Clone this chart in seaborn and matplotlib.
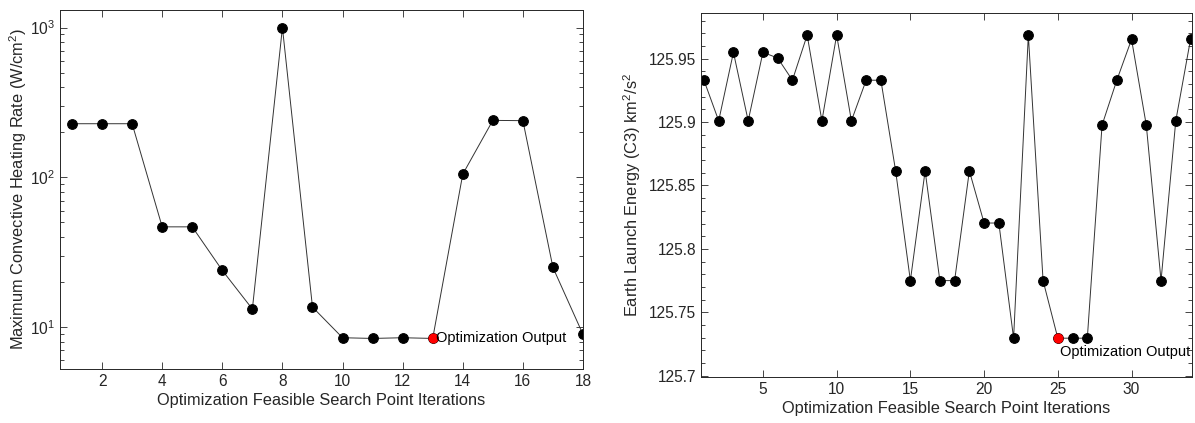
import matplotlib
matplotlib.use("Agg")
import matplotlib.pyplot as plt
import matplotlib.ticker as mticker
import seaborn as sns
import pandas as pd
import numpy as np

# ---- data ----
iters_left = list(range(1, 19))
heating_rate = [228, 228, 228, 46.7, 46.7, 23.9, 13.2, 1000, 13.6, 8.49, 8.4, 8.49,
                8.4, 105, 240, 239, 25.0, 8.93]
opt_left_iter = 13

iters_right = list(range(1, 35))
c3_energy = [125.933, 125.901, 125.955, 125.901, 125.955, 125.9505, 125.933, 125.9686,
             125.901, 125.9686, 125.901, 125.933, 125.933, 125.8615, 125.775, 125.8615,
             125.775, 125.775, 125.8615, 125.8204, 125.8204, 125.7296, 125.9686, 125.775,
             125.7296, 125.7296, 125.7296, 125.8976, 125.933, 125.9652, 125.8976, 125.775,
             125.901, 125.9652]
opt_right_iter = 25

xlabel = "Optimization Feasible Search Point Iterations"
ylabel_left = "Maximum Convective Heating Rate (W/cm$^2$)"
ylabel_right = "Earth Launch Energy (C3) km$^2$/s$^2$"
annot_text = "Optimization Output"
left_xticks = [2, 4, 6, 8, 10, 12, 14, 16, 18]
right_xticks = [5, 10, 15, 20, 25, 30]
right_yticks = [125.7, 125.75, 125.8, 125.85, 125.9, 125.95]

sns.set_style("ticks")
plt.rcParams['font.family'] = ['Liberation Sans', 'DejaVu Sans']
plt.rcParams['mathtext.fontset'] = 'custom'
plt.rcParams['mathtext.rm'] = 'Liberation Sans'
plt.rcParams['mathtext.it'] = 'Liberation Sans'

axcol = '#262626'
W, H = 1195, 423
fig = plt.figure(figsize=(W / 100, H / 100), dpi=100)
ax1 = fig.add_axes([60 / W, (H - 369) / H, (583 - 60) / W, (369 - 10) / H])
ax2 = fig.add_axes([701 / W, (H - 377) / H, (1192 - 701) / W, (377 - 13) / H])

dfl = pd.DataFrame({"it": iters_left, "val": heating_rate})
dfr = pd.DataFrame({"it": iters_right, "val": c3_energy})

for ax, df, opt in [(ax1, dfl, opt_left_iter), (ax2, dfr, opt_right_iter)]:
    sns.lineplot(data=df, x="it", y="val", ax=ax, color='#333333', linewidth=0.7,
                 marker='o', markersize=7, markerfacecolor='black',
                 markeredgecolor='black', zorder=2)
    sub = df[df["it"] == opt]
    sns.scatterplot(data=sub, x="it", y="val", ax=ax, color='red', s=52,
                    edgecolor='red', linewidth=0, zorder=3)
    ax.set_xlabel(xlabel, fontsize=11.8, color=axcol, labelpad=3)
    for s in ax.spines.values():
        s.set_visible(True)
        s.set_color(axcol)
        s.set_linewidth(0.7)
    ax.tick_params(which='both', direction='in', top=True, right=True,
                   colors=axcol, labelsize=11.2, width=0.6)
    ax.tick_params(which='major', length=5)
    ax.tick_params(which='minor', length=3)

ax1.set_yscale('log')
ax1.set_xlim(0.6, 18)
ax1.set_ylim(5.25, 1310)
ax1.set_xticks(left_xticks)
ax1.set_ylabel(ylabel_left, fontsize=11.8, color=axcol, labelpad=1)
ax1.yaxis.set_major_locator(mticker.LogLocator(base=10, numticks=10))
ax1.yaxis.set_minor_locator(mticker.LogLocator(base=10, subs=np.arange(2, 10), numticks=10))
ax1.yaxis.set_minor_formatter(mticker.NullFormatter())
ax1.text(opt_left_iter + 0.1, heating_rate[opt_left_iter - 1], annot_text,
         fontsize=10.5, va='center', ha='left', color='black')

ax2.set_xlim(0.8, 34.1)
ax2.set_ylim(125.699, 125.986)
ax2.set_xticks(right_xticks)
ax2.set_yticks(right_yticks)
ax2.yaxis.set_major_formatter(mticker.FuncFormatter(lambda v, p: f"{v:g}"))
ax2.yaxis.set_minor_locator(mticker.MultipleLocator(0.01))
ax2.set_ylabel(ylabel_right, fontsize=11.8, color=axcol, labelpad=4)
ax2.text(opt_right_iter + 0.15, 125.719, annot_text,
         fontsize=10.5, va='center', ha='left', color='black')

fig.savefig("out.png", dpi=100)
